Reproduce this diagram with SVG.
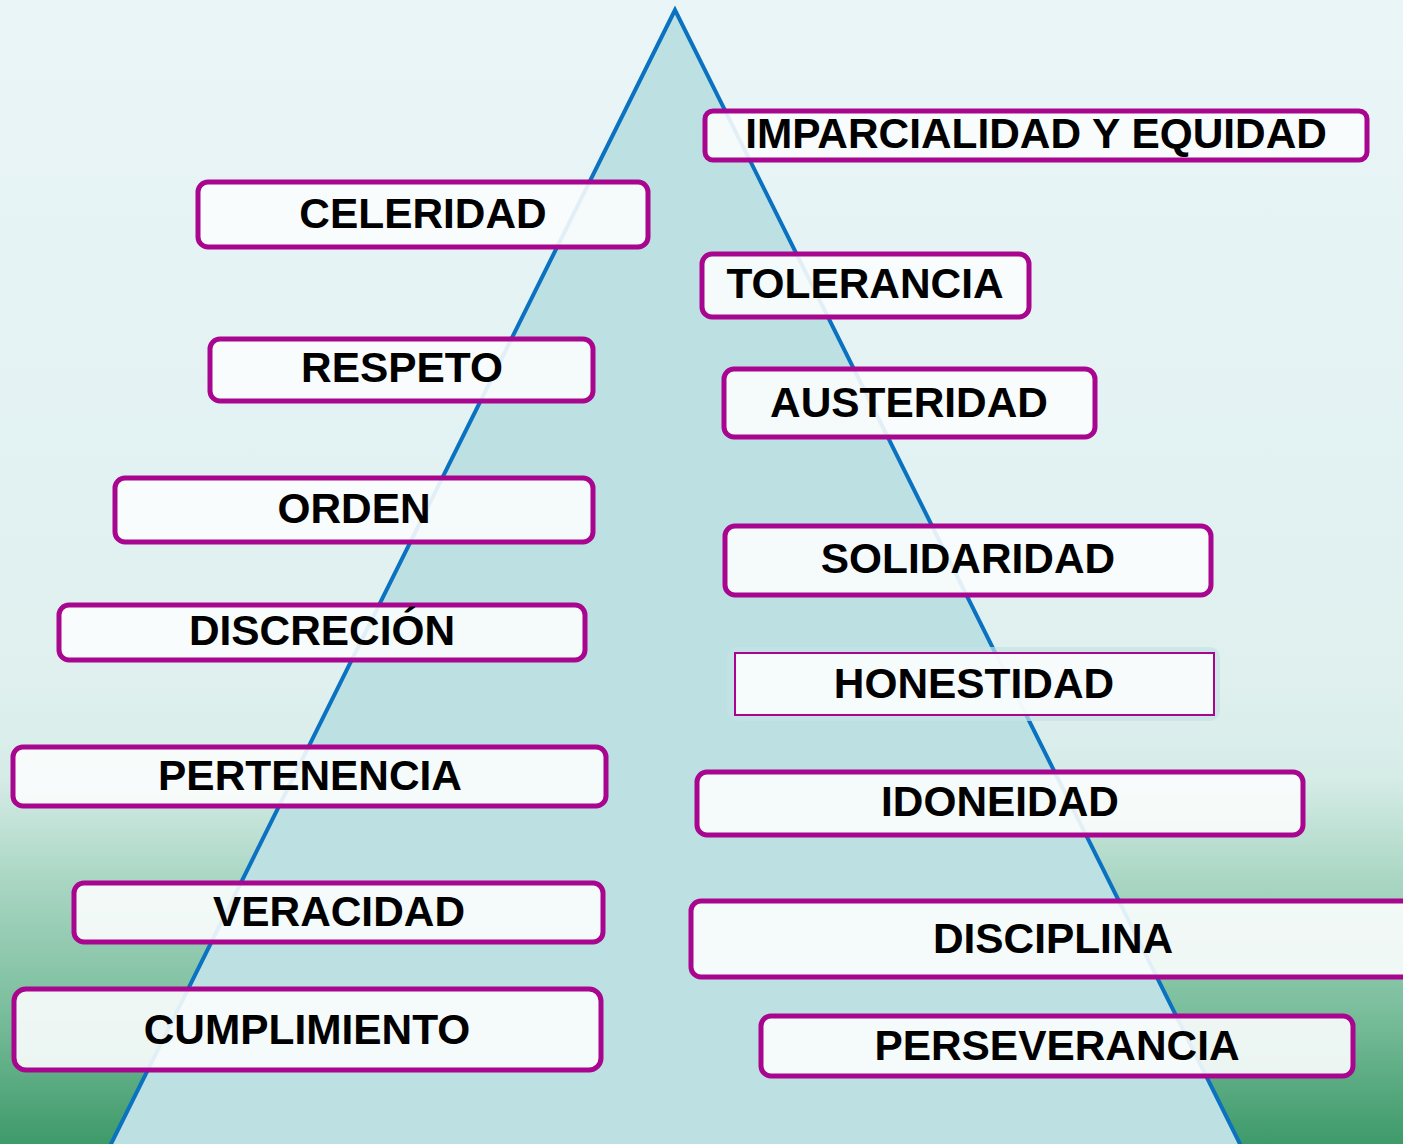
<svg xmlns="http://www.w3.org/2000/svg" width="1403" height="1144" viewBox="0 0 1403 1144">
<defs>
<linearGradient id="bg" x1="0" y1="0" x2="0" y2="1">
<stop offset="0" stop-color="#eaf5f7"/>
<stop offset="0.6" stop-color="#dff0ef"/>
<stop offset="0.68" stop-color="#d6ece7"/>
<stop offset="0.77" stop-color="#a9d6c3"/>
<stop offset="0.88" stop-color="#7cbf9e"/>
<stop offset="1" stop-color="#3e9a69"/>
</linearGradient>
<style>
.box{fill:#fbfdfd;fill-opacity:0.9;stroke:#a8068f;stroke-width:5}
.thin{fill:#fbfdfd;fill-opacity:0.92;stroke:#a8068f;stroke-width:2}
.lbl{font-family:"Liberation Sans",Arial,sans-serif;font-weight:bold;font-size:42.4px;fill:#000;text-anchor:middle}
</style>
</defs>
<rect x="0" y="0" width="1403" height="1144" fill="url(#bg)"/>
<g id="pyramid">
<polygon points="675,10 108,1150 1243,1150" fill="#bde0e3" stroke="#0a72c0" stroke-width="4" stroke-linejoin="miter"/>
</g>
<g id="connectors"></g>
<g id="n-imparcialidad"><rect class="box" x="705" y="111" width="662" height="49" rx="8"/><text class="lbl" x="1036" y="148">IMPARCIALIDAD Y EQUIDAD</text></g>
<g id="n-celeridad"><rect class="box" x="198" y="182" width="450" height="65" rx="10"/><text class="lbl" x="423" y="228">CELERIDAD</text></g>
<g id="n-tolerancia"><rect class="box" x="702" y="254" width="327" height="63" rx="10"/><text class="lbl" x="865" y="298">TOLERANCIA</text></g>
<g id="n-respeto"><rect class="box" x="210" y="339" width="383" height="62" rx="10"/><text class="lbl" x="402" y="382">RESPETO</text></g>
<g id="n-austeridad"><rect class="box" x="724" y="369" width="371" height="68" rx="10"/><text class="lbl" x="909" y="417">AUSTERIDAD</text></g>
<g id="n-orden"><rect class="box" x="115" y="478" width="478" height="64" rx="10"/><text class="lbl" x="354" y="523">ORDEN</text></g>
<g id="n-solidaridad"><rect class="box" x="725" y="526" width="486" height="69" rx="10"/><text class="lbl" x="968" y="573">SOLIDARIDAD</text></g>
<g id="n-discrecion"><rect class="box" x="59" y="605" width="526" height="55" rx="10"/><text class="lbl" x="322" y="645">DISCRECIÓN</text></g>
<g id="n-honestidad"><rect x="727" y="647" width="493" height="74" rx="10" fill="#c4e3e6" fill-opacity="0.7"/><rect class="thin" x="735" y="653" width="479" height="62"/><text class="lbl" x="974" y="698">HONESTIDAD</text></g>
<g id="n-pertenencia"><rect class="box" x="13" y="747" width="593" height="59" rx="10"/><text class="lbl" x="310" y="790">PERTENENCIA</text></g>
<g id="n-idoneidad"><rect class="box" x="697" y="772" width="606" height="63" rx="10"/><text class="lbl" x="1000" y="816">IDONEIDAD</text></g>
<g id="n-veracidad"><rect class="box" x="74" y="883" width="529" height="59" rx="10"/><text class="lbl" x="339" y="926">VERACIDAD</text></g>
<g id="n-disciplina"><rect class="box" x="691" y="901" width="730" height="76" rx="10"/><text class="lbl" x="1053" y="953">DISCIPLINA</text></g>
<g id="n-cumplimiento"><rect class="box" x="14" y="989" width="587" height="81" rx="12"/><text class="lbl" x="307" y="1044">CUMPLIMIENTO</text></g>
<g id="n-perseverancia"><rect class="box" x="761" y="1016" width="592" height="60" rx="10"/><text class="lbl" x="1057" y="1060">PERSEVERANCIA</text></g>
</svg>
